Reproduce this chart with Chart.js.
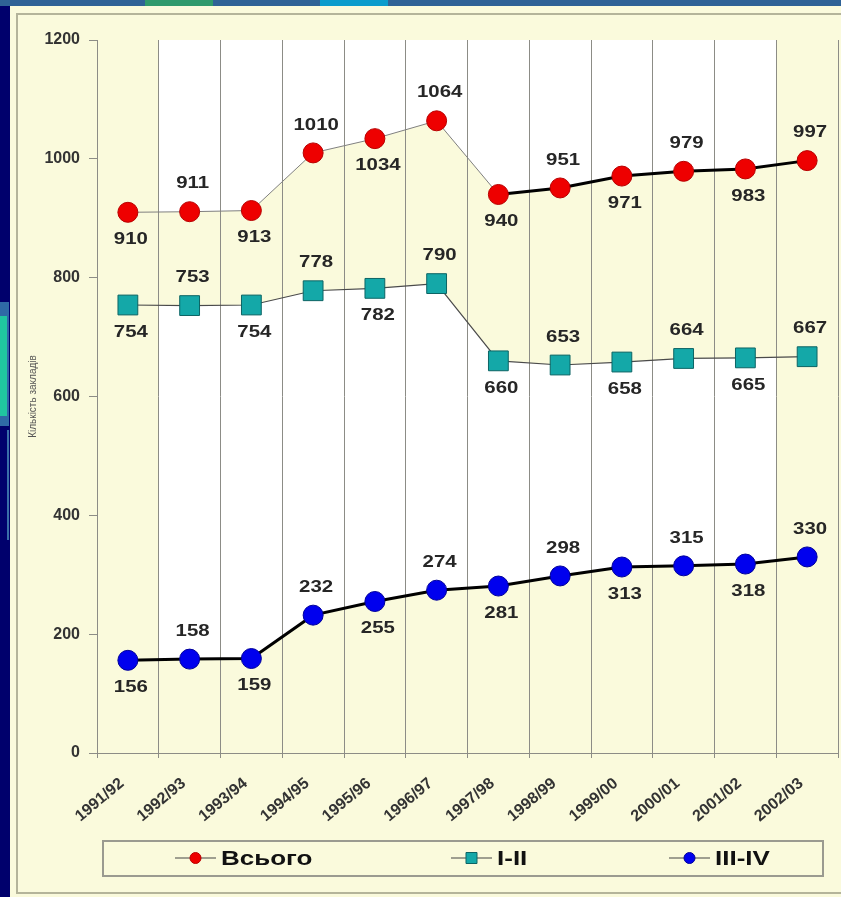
<!DOCTYPE html>
<html lang="uk">
<head>
<meta charset="utf-8">
<title>Кількість закладів</title>
<script src="https://cdn.jsdelivr.net/npm/chart.js@4.4.0/dist/chart.umd.min.js"></script>
<style>
  body { margin: 0; background: #00006c; width: 841px; height: 897px; overflow: hidden; position: relative; }
  .bande { position: absolute; top: 0; height: 6px; }
  #panneau { position: absolute; left: 10px; top: 6px; width: 831px; height: 891px; background: #fafadc; }
  #cadre { position: absolute; left: 16px; top: 13px; width: 840px; height: 877px; border: 2px solid #b4b49a; }
  .deco { position: absolute; left: 0; }
  #graphiqueEtablissements { position: absolute; left: 0; top: 0; }
</style>
</head>
<body>
<div class="bande" style="left:0;width:841px;background:#2f6296"></div>
<div class="bande" style="left:145px;width:68px;background:#2f9a6c"></div>
<div class="bande" style="left:320px;width:68px;background:#0a9ccc"></div>
<div class="deco" style="top:302px;width:9px;height:124px;background:#2f6aa6"></div>
<div class="deco" style="top:316px;width:7px;height:100px;background:#20c6a0"></div>
<div class="deco" style="top:430px;width:7px;height:110px;background:#00006c;border-right:2px solid #3a6ea8"></div>
<div id="panneau"></div>
<div id="cadre"></div>
<canvas id="graphiqueEtablissements" width="841" height="897"></canvas>

<script>
//? Données.

const categories = [
  "1991/92", "1992/93", "1993/94", "1994/95", "1995/96", "1996/97",
  "1997/98", "1998/99", "1999/00", "2000/01", "2001/02", "2002/03",
];

const valeursTotal = [910, 911, 913, 1010, 1034, 1064, 940, 951, 971, 979, 983, 997];
const valeursNiveauI_II = [754, 753, 754, 778, 782, 790, 660, 653, 658, 664, 665, 667];
const valeursNiveauIII_IV = [156, 158, 159, 232, 255, 274, 281, 298, 313, 315, 318, 330];

const graduationsY = [0, 200, 400, 600, 800, 1000, 1200];

const libelleTotal = "Всього";
const libelleNiveauI_II = "I-II";
const libelleNiveauIII_IV = "III-IV";
const titreAxeY = "Кількість закладів";

//? -------------------------------------------------

//? Styles.

const police = "'Liberation Sans', Arial, sans-serif";
const couleurCreme = "#fafadc";
const couleurGrille = "#8c8c86";
const indiceTraitEpais = 6;

//? -------------------------------------------------

//? Fond : crème + bandes blanches entre les courbes.

const pluginFond = {
  id: "fondBandes",
  beforeDraw(chart) {
    const { ctx, chartArea } = chart;
    const xScale = chart.scales.x;
    const pointsTotal = chart.getDatasetMeta(0).data;
    const pointsI_II = chart.getDatasetMeta(1).data;
    const pointsIII_IV = chart.getDatasetMeta(2).data;

    ctx.save();
    ctx.fillStyle = couleurCreme;
    ctx.fillRect(chartArea.left, chartArea.top, chartArea.width, chartArea.height);

    const debut = xScale.getPixelForValue(0.5);
    const fin = xScale.getPixelForValue(categories.length - 1.5);
    ctx.fillStyle = "#ffffff";
    ctx.fillRect(debut, chartArea.top, fin - debut, chartArea.height);

    ctx.fillStyle = couleurCreme;
    ctx.beginPath();
    pointsTotal.forEach((p, i) => (i === 0 ? ctx.moveTo(p.x, p.y) : ctx.lineTo(p.x, p.y)));
    for (let i = pointsI_II.length - 1; i >= 0; i--) ctx.lineTo(pointsI_II[i].x, pointsI_II[i].y);
    ctx.closePath();
    ctx.fill();

    ctx.beginPath();
    pointsIII_IV.forEach((p, i) => (i === 0 ? ctx.moveTo(p.x, p.y) : ctx.lineTo(p.x, p.y)));
    ctx.lineTo(pointsIII_IV[pointsIII_IV.length - 1].x, chartArea.bottom);
    ctx.lineTo(pointsIII_IV[0].x, chartArea.bottom);
    ctx.closePath();
    ctx.fill();
    ctx.restore();
  },
};

//? -------------------------------------------------

//? Étiquettes des valeurs (alternance dessous / dessus).

const pluginEtiquettes = {
  id: "etiquettesValeurs",
  afterDatasetsDraw(chart) {
    const ctx = chart.ctx;
    ctx.save();
    ctx.font = `bold 17px ${police}`;
    ctx.fillStyle = "#262626";
    ctx.textAlign = "center";
    ctx.textBaseline = "middle";
    chart.data.datasets.forEach((dataset, i) => {
      chart.getDatasetMeta(i).data.forEach((point, j) => {
        const decalageY = j % 2 === 0 ? 27 : -28;
        ctx.save();
        ctx.translate(point.x + 3, point.y + decalageY);
        ctx.scale(1.2, 1);
        ctx.fillText(String(dataset.data[j]), 0, 0);
        ctx.restore();
      });
    });
    ctx.restore();
  },
};

//? -------------------------------------------------

//? Légende encadrée en bas.

const pluginLegende = {
  id: "legendeEncadree",
  afterDraw(chart) {
    const ctx = chart.ctx;
    const positionsX = [175, 451, 669];
    const yMilieu = 858;

    ctx.save();
    ctx.strokeStyle = "#9a9a90";
    ctx.lineWidth = 2;
    ctx.strokeRect(103, 841, 720, 35);

    chart.data.datasets.forEach((dataset, i) => {
      const x = positionsX[i];
      ctx.strokeStyle = "#444";
      ctx.lineWidth = 1;
      ctx.beginPath();
      ctx.moveTo(x, yMilieu);
      ctx.lineTo(x + 41, yMilieu);
      ctx.stroke();

      ctx.fillStyle = dataset.pointBackgroundColor;
      ctx.strokeStyle = dataset.pointBorderColor;
      ctx.beginPath();
      if (dataset.pointStyle === "rect") {
        ctx.rect(x + 15, yMilieu - 5.5, 11, 11);
      } else {
        ctx.arc(x + 20.5, yMilieu, 5.5, 0, Math.PI * 2);
      }
      ctx.fill();
      ctx.stroke();

      ctx.save();
      ctx.translate(x + 46, yMilieu + 1);
      ctx.scale(1.3, 1);
      ctx.font = `bold 20px ${police}`;
      ctx.fillStyle = "#111";
      ctx.textBaseline = "middle";
      ctx.fillText(dataset.label, 0, 0);
      ctx.restore();
    });
    ctx.restore();
  },
};

//? -------------------------------------------------

//? Construction du graphique.

const constructionDuGraphique = () => {
  try {
    const ctxGraphique = document
      .getElementById("graphiqueEtablissements")
      .getContext("2d");

    const data = {
      labels: categories,
      datasets: [
        {
          label: libelleTotal,
          data: valeursTotal,
          borderColor: "#808080",
          borderWidth: 1,
          segment: {
            borderColor: (c) => (c.p0DataIndex >= indiceTraitEpais ? "#000000" : "#808080"),
            borderWidth: (c) => (c.p0DataIndex >= indiceTraitEpais ? 3 : 1),
          },
          pointStyle: "circle",
          pointRadius: 10,
          pointBackgroundColor: "#ee0000",
          pointBorderColor: "#b80000",
          pointBorderWidth: 1,
          tension: 0,
          fill: false,
        },
        {
          label: libelleNiveauI_II,
          data: valeursNiveauI_II,
          borderColor: "#4a4a4a",
          borderWidth: 1.2,
          pointStyle: "rect",
          pointRadius: 14,
          pointBackgroundColor: "#14a8a8",
          pointBorderColor: "#0c6464",
          pointBorderWidth: 1,
          tension: 0,
          fill: false,
        },
        {
          label: libelleNiveauIII_IV,
          data: valeursNiveauIII_IV,
          borderColor: "#000000",
          borderWidth: 3,
          pointStyle: "circle",
          pointRadius: 10,
          pointBackgroundColor: "#0000ee",
          pointBorderColor: "#00009a",
          pointBorderWidth: 1,
          tension: 0,
          fill: false,
        },
      ],
    };

    const options = {
      responsive: false,
      animation: false,
      layout: {
        autoPadding: false,
        padding: { left: 10, top: 40, right: 3, bottom: 60 },
      },
      plugins: {
        legend: { display: false },
        tooltip: { enabled: false },
      },
      scales: {
        x: {
          offset: true,
          grid: {
            offset: true,
            color: couleurGrille,
            lineWidth: 1,
            tickLength: 5,
          },
          border: { color: couleurGrille, width: 1 },
          ticks: {
            color: "#333",
            font: { family: police, size: 16, weight: "bold" },
            minRotation: 40,
            maxRotation: 40,
            autoSkip: false,
            labelOffset: -6,
            padding: 16,
          },
          afterFit: (scale) => {
            scale.height = 84;
            scale.paddingLeft = 0;
            scale.paddingRight = 0;
          },
        },
        y: {
          min: 0,
          max: 1200,
          afterBuildTicks: (scale) => {
            scale.ticks = graduationsY.map((v) => ({ value: v }));
          },
          grid: {
            drawOnChartArea: false,
            color: couleurGrille,
            tickLength: 8,
          },
          border: { color: couleurGrille, width: 1 },
          ticks: {
            color: "#333",
            font: { family: police, size: 16, weight: "bold" },
            padding: 9,
            callback: (valeur) => String(valeur),
          },
          title: {
            display: true,
            text: titreAxeY,
            color: "#555",
            font: { family: police, size: 10 },
            padding: { top: 17, bottom: 0 },
          },
          afterFit: (scale) => {
            scale.width = 87;
          },
        },
      },
    };

    new Chart(ctxGraphique, {
      type: "line",
      data,
      options,
      plugins: [pluginFond, pluginEtiquettes, pluginLegende],
    });
  } catch (error) {
    console.error("🔴 ERREUR | Construction graphique :", error);
  }
};

constructionDuGraphique();
</script>
</body>
</html>
